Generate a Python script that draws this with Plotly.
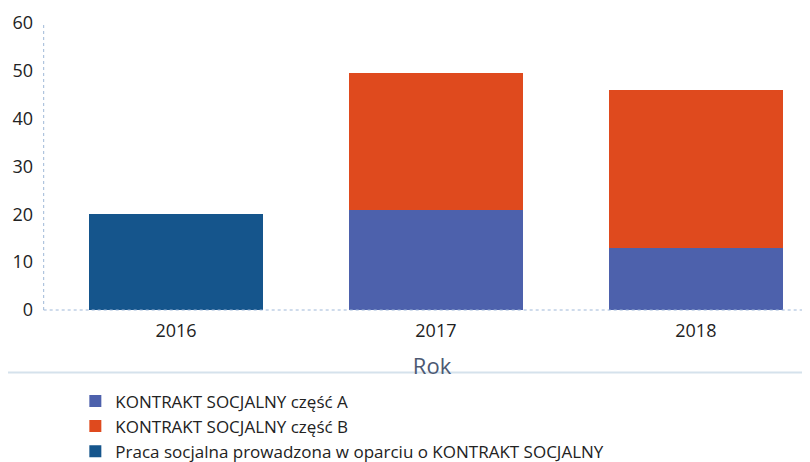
import plotly.graph_objects as go

years = ["2016", "2017", "2018"]
praca = [20, None, None]
czesc_a = [None, 21, 13]
czesc_b = [None, 28.5, 33]
y_ticks = [0, 10, 20, 30, 40, 50, 60]

font = "Open Sans, Noto Sans, sans-serif"

fig = go.Figure()
fig.add_trace(go.Bar(x=years, y=czesc_a, name="KONTRAKT SOCJALNY część A",
                     marker=dict(color="#4d61ac", line=dict(width=0))))
fig.add_trace(go.Bar(x=years, y=czesc_b, name="KONTRAKT SOCJALNY część B",
                     marker=dict(color="#df4a1e", line=dict(width=0))))
fig.add_trace(go.Bar(x=years, y=praca, name="Praca socjalna prowadzona w oparciu o KONTRAKT SOCJALNY",
                     marker=dict(color="#15558c", line=dict(width=0))))

fig.update_layout(
    width=810, height=462,
    barmode="stack", bargap=0.33,
    paper_bgcolor="white", plot_bgcolor="white",
    margin=dict(l=38, r=0, t=15, b=160, autoexpand=False),
    font=dict(family=font, size=17, color="#222222"),
    xaxis=dict(range=[-0.5, 2.47], showgrid=False, showline=False, zeroline=False,
               ticks="", tickfont=dict(size=18, color="#222222"), automargin=False,
               ticklabelstandoff=8,
               title=dict(text="Rok", font=dict(size=22, color="#4c5872"), standoff=17)),
    yaxis=dict(range=[0, 60], tickvals=y_ticks, showgrid=False, zeroline=False,
               showline=False, ticks="", tickfont=dict(size=18, color="#222222"),
               ticklabelstandoff=12, automargin=False),
    legend=dict(orientation="v", x=0.038, xanchor="left", y=-0.256, yanchor="top",
                font=dict(size=17, color="#222222"), traceorder="normal",
                itemsizing="constant", tracegroupgap=0),
    shapes=[
        dict(type="line", xref="paper", yref="paper", x0=-0.003, x1=-0.003, y0=0, y1=1,
             line=dict(color="#9fb8d8", width=1, dash="dot")),
        dict(type="line", xref="paper", yref="paper", x0=-0.003, x1=1, y0=0, y1=0,
             line=dict(color="#9fb8d8", width=1, dash="dot")),
        dict(type="line", xref="paper", yref="paper", x0=-0.06, x1=1, y0=-0.218, y1=-0.218,
             line=dict(color="#d5e2ec", width=2)),
    ],
)

fig.write_html("out.html")
